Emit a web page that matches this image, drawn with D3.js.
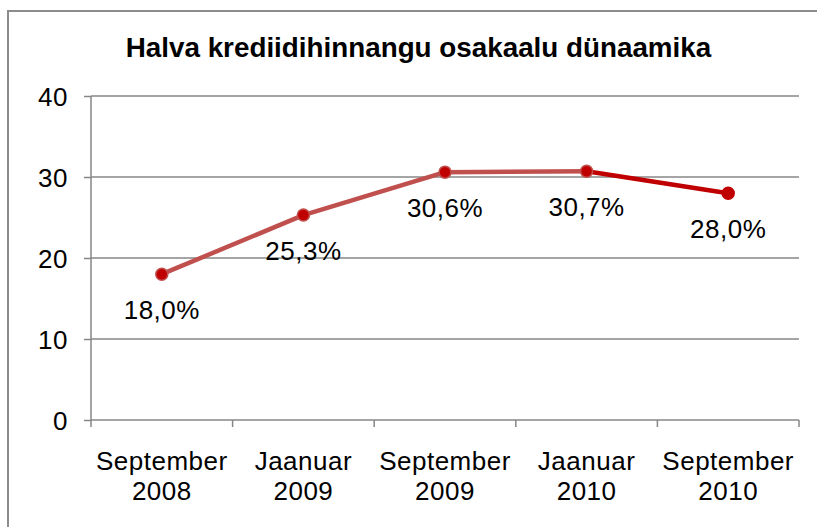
<!DOCTYPE html>
<html>
<head>
<meta charset="utf-8">
<script src="https://cdn.jsdelivr.net/npm/d3@7"></script>
<style>
  html, body { margin: 0; padding: 0; background: #fff; }
  svg { display: block; }
  text { font-family: "Liberation Sans", Arial, sans-serif; fill: #000; }
</style>
</head>
<body>
<svg id="chart" width="817" height="527"></svg>
<script>
const title = "Halva krediidihinnangu osakaalu dünaamika";
const categories = [["September", "2008"], ["Jaanuar", "2009"], ["September", "2009"], ["Jaanuar", "2010"], ["September", "2010"]];
const values = [18.0, 25.3, 30.6, 30.7, 28.0];
const valueLabels = ["18,0%", "25,3%", "30,6%", "30,7%", "28,0%"];
const yTicks = [0, 10, 20, 30, 40];
const segmentColors = ["#c0504d", "#c0504d", "#c0504d", "#c00000"];
const markerStroke = ["#c0504d", "#c0504d", "#c0504d", "#c0504d", "#c00000"];

const svg = d3.select("#chart");
const plot = { left: 91, right: 799, top: 96, bottom: 420 };
const FS = "26px", LS = "0.5px";

// outer border
svg.append("rect")
  .attr("x", 8).attr("y", 11)
  .attr("width", 830).attr("height", 540)
  .attr("fill", "none").attr("stroke", "#8c8c8c").attr("stroke-width", 2);

// title
svg.append("text")
  .attr("x", 418.5).attr("y", 57)
  .attr("text-anchor", "middle")
  .style("font-size", "27.8px").style("font-weight", "bold")
  .text(title);

const x = d3.scaleBand()
  .domain(d3.range(categories.length))
  .range([plot.left, plot.right])
  .paddingInner(0).paddingOuter(0);

const y = d3.scaleLinear().domain([0, 40]).range([plot.bottom, plot.top]);

// gridlines
svg.append("g").selectAll("line").data(yTicks.filter(t => t > 0)).join("line")
  .attr("x1", plot.left).attr("x2", plot.right)
  .attr("y1", d => y(d)).attr("y2", d => y(d))
  .attr("stroke", "#878787").attr("stroke-width", 1.5);

// y axis
const yAxis = d3.axisLeft(y).tickValues(yTicks).tickSize(7).tickPadding(16).tickFormat(d3.format("d"));
const gy = svg.append("g").attr("transform", `translate(${plot.left},0)`).call(yAxis);
gy.select(".domain").attr("stroke", "#878787").attr("stroke-width", 1.5).attr("d", `M0,${plot.top}V${plot.bottom}`);
gy.selectAll(".tick line").attr("stroke", "#878787").attr("stroke-width", 1.5);
gy.selectAll(".tick text").style("font-size", FS).style("letter-spacing", LS)
  .style("font-family", "Liberation Sans, Arial, sans-serif").attr("fill", "#000").attr("dy", "0.36em");

// x axis
const xAxis = d3.axisBottom(x).tickSize(0).tickFormat(() => "");
const gx = svg.append("g").attr("transform", `translate(0,${plot.bottom})`).call(xAxis);
gx.select(".domain").attr("stroke", "#878787").attr("stroke-width", 1.5).attr("d", `M${plot.left},0H${plot.right}`);
const bounds = d3.range(categories.length + 1).map(i => i < categories.length ? x(i) : x(categories.length - 1) + x.bandwidth());
gx.append("g").selectAll("line").data(bounds).join("line")
  .attr("x1", d => d).attr("x2", d => d).attr("y1", 0).attr("y2", 7)
  .attr("stroke", "#878787").attr("stroke-width", 1.5);
const cl = gx.append("g").selectAll("text").data(categories).join("text")
  .attr("x", (d, i) => x(i) + x.bandwidth() / 2)
  .attr("text-anchor", "middle")
  .style("font-size", FS).style("letter-spacing", LS)
  .attr("fill", "#000");
cl.append("tspan").attr("x", (d, i) => x(i) + x.bandwidth() / 2).attr("y", 50).text(d => d[0]);
cl.append("tspan").attr("x", (d, i) => x(i) + x.bandwidth() / 2).attr("y", 80).text(d => d[1]);

// line segments
const cx = i => x(i) + x.bandwidth() / 2;
const segs = d3.range(values.length - 1);
svg.append("g").selectAll("line").data(segs).join("line")
  .attr("x1", i => cx(i)).attr("y1", i => y(values[i]))
  .attr("x2", i => cx(i + 1)).attr("y2", i => y(values[i + 1]))
  .attr("stroke", i => segmentColors[i]).attr("stroke-width", 4.5)
  .attr("stroke-linecap", "round");

// markers
svg.append("g").selectAll("circle").data(values).join("circle")
  .attr("cx", (d, i) => cx(i)).attr("cy", d => y(d))
  .attr("r", 6)
  .attr("fill", "#c00000")
  .attr("stroke", (d, i) => markerStroke[i]).attr("stroke-width", 1.5);

// data labels
svg.append("g").selectAll("text").data(values).join("text")
  .attr("x", (d, i) => cx(i)).attr("y", d => y(d) + 45)
  .attr("text-anchor", "middle")
  .style("font-size", FS).style("letter-spacing", LS)
  .text((d, i) => valueLabels[i]);
</script>
</body>
</html>
